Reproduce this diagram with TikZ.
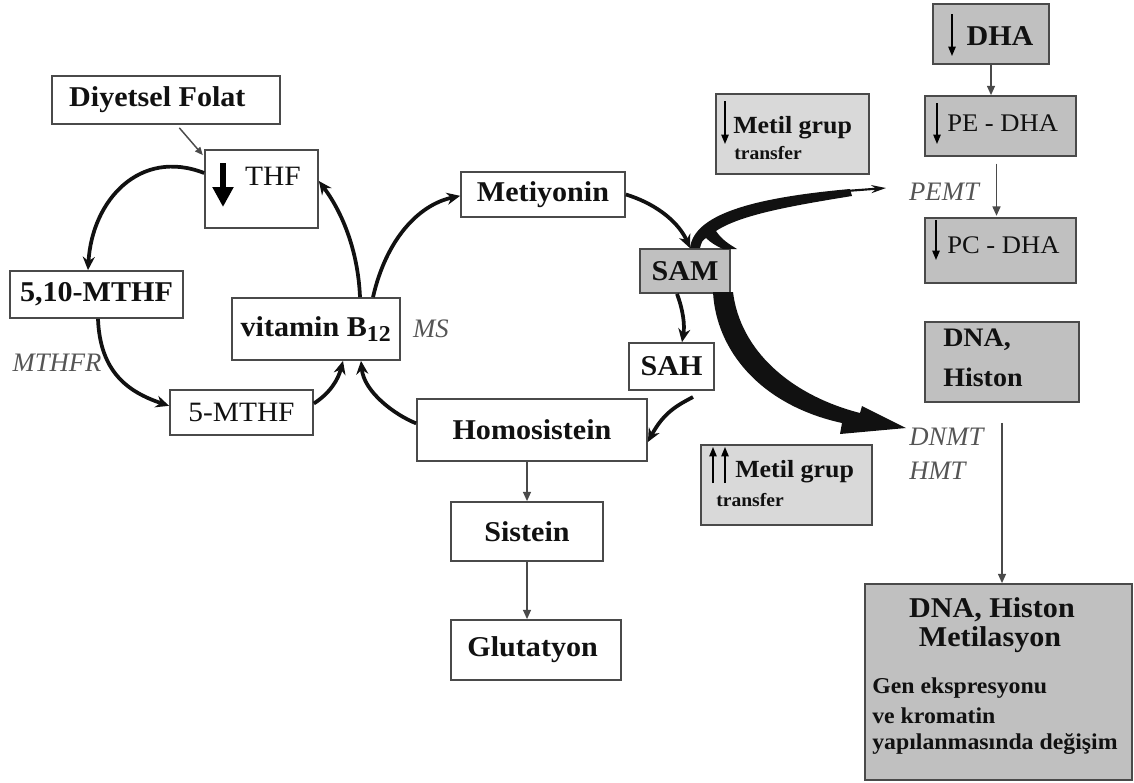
\documentclass[tikz,border=0pt]{standalone}
\usepackage{fontspec}
\setmainfont{Liberation Serif}[FakeStretch=1.05]
\newfontfamily\enzfont{Liberation Serif}
\usetikzlibrary{arrows.meta}
\definecolor{boxline}{HTML}{4A4A4A}
\definecolor{boxgray}{HTML}{C0C0C0}
\definecolor{boxlight}{HTML}{D9D9D9}
\definecolor{enzgray}{HTML}{555555}
\definecolor{ink}{HTML}{111111}
\begin{document}
\begin{tikzpicture}[x=0.75pt,y=-0.75pt,
  box/.style={draw=boxline, line width=1.3pt, inner sep=0pt, fill=white},
  graybox/.style={box, fill=boxgray},
  lightbox/.style={box, fill=boxlight},
  bigbold/.style={font=\fontsize{21.5}{24}\selectfont\bfseries, text=ink},
  plain/.style={font=\fontsize{21}{24}\selectfont, text=ink},
  mgbold/.style={font=\fontsize{18.5}{20}\selectfont\bfseries, text=ink, inner sep=0pt},
  smbold/.style={font=\fontsize{14}{16}\selectfont\bfseries, text=ink, inner sep=0pt},
  dnabold/.style={font=\fontsize{20}{22}\selectfont\bfseries, text=ink, inner sep=0pt},
  genbold/.style={font=\fontsize{17}{19}\selectfont\bfseries, text=ink, inner sep=0pt},
  enzyme/.style={font=\fontsize{20}{22}\enzfont\itshape, text=enzgray, inner sep=0pt},
  cycle arrow/.style={line width=2.8pt, draw=ink, -{Stealth[length=10pt,width=9pt]}},
  flow arrow/.style={line width=1.1pt, draw=boxline, -{Triangle[length=7pt,width=6pt]}},
  down mark/.style={line width=1.1pt, draw=black, -{Triangle[length=7pt,width=5.5pt]}},
]
\useasboundingbox (0,0) rectangle (1134,782);

% ---- folate cycle ----
\node[box, minimum width=171pt, minimum height=36pt, bigbold] (folat) at (166,100) {Diyetsel Folat\kern13pt};
\node[box, minimum width=84.75pt, minimum height=58.5pt] (thf) at (261.5,189) {};
\node[plain, inner sep=0pt] (thftxt) at (273,176) {THF};
\draw[line width=5pt, draw=black, -{Triangle[length=15pt,width=15pt]}] (223,163) -- (223,207);

\node[box, minimum width=129.75pt, minimum height=35.25pt, bigbold] (m510) at (96.5,294.5) {5,10-MTHF};
\node[box, minimum width=126pt, minimum height=46.5pt, bigbold] (b12) at (316,329) {vitamin B\textsubscript{\fontsize{17}{18}\selectfont 12}};
\node[box, minimum width=107.25pt, minimum height=33.75pt, plain] (m5) at (241.5,412.5) {5-MTHF};

% ---- methionine cycle ----
\node[box, minimum width=123pt, minimum height=33.75pt, bigbold] (met) at (543,194.5) {Metiyonin};
\node[graybox, minimum width=67.5pt, minimum height=33pt, bigbold] (sam) at (685,271) {SAM};
\node[box, minimum width=63.75pt, minimum height=35.25pt, bigbold] (sah) at (671.5,366.5) {SAH};
\node[box, minimum width=172.5pt, minimum height=46.5pt, bigbold] (hcy) at (532,430) {Homosistein};
\node[box, minimum width=114pt, minimum height=44.25pt, bigbold] (cys) at (527,531.5) {Sistein};
\node[box, minimum width=127.5pt, minimum height=45pt, bigbold] (gsh) at (536,650) {\kern-5pt Glutatyon};

% ---- methyl transfer notes ----
\node[lightbox, minimum width=114.75pt, minimum height=60pt] (mgta) at (792.5,134) {};
\node[mgbold, anchor=west] (mgtaa) at (733,128) {Metil grup};
\node[smbold, anchor=west] (mgtab) at (734,153) {transfer};
\draw[down mark] (725,101) -- (725,144);

\node[lightbox, minimum width=128.25pt, minimum height=60pt] (mgtb) at (786.5,485) {};
\node[mgbold, anchor=west] (mgtba) at (735,472) {Metil grup};
\node[smbold, anchor=west] (mgtbb) at (716,500) {transfer};
\draw[down mark] (713,483) -- (713,447);
\draw[down mark] (725,483) -- (725,447);

% ---- DHA column ----
\node[graybox, minimum width=87pt, minimum height=45pt] (dha) at (991,34) {};
\node[bigbold, inner sep=0pt] (dhatxt) at (1000,36) {DHA};
\draw[down mark] (952,14) -- (952,56);
\node[graybox, minimum width=113.25pt, minimum height=45pt] (pedha) at (1000.5,126) {};
\node[plain, anchor=west, inner sep=0pt, font=\fontsize{19}{21}\selectfont] (pedhatxt) at (947,123) {PE - DHA};
\draw[down mark] (937,103) -- (937,144);
\node[graybox, minimum width=113.25pt, minimum height=48.75pt] (pcdha) at (1000.5,250.5) {};
\node[plain, anchor=west, inner sep=0pt, font=\fontsize{19}{21}\selectfont] (pcdhatxt) at (947,245) {PC - DHA};
\draw[down mark] (936,220) -- (936,260);

\node[graybox, minimum width=115.5pt, minimum height=60pt] (dnah) at (1002,362) {};
\node[dnabold, anchor=west] (dnaha) at (943,340) {DNA,};
\node[dnabold, anchor=west] (dnahb) at (943,377) {Histon};

\node[graybox, minimum width=200.25pt, minimum height=147pt] (big) at (998.5,682) {};
\node[bigbold, inner sep=0pt] (biga) at (992,610) {DNA, Histon};
\node[bigbold, inner sep=0pt] (bigb) at (990,640) {Metilasyon};
\node[genbold, anchor=west] (bigc) at (872,688) {Gen ekspresyonu};
\node[genbold, anchor=west] (bigd) at (872,716) {ve kromatin};
\node[genbold, anchor=west] (bige) at (872,744) {yapılanmasında değişim};

% ---- enzyme labels ----
\node[enzyme] (ms) at (431,329) {MS};
\node[enzyme] (mthfr) at (57,363) {MTHFR};
\node[enzyme] (pemt) at (944,192) {PEMT};
\node[enzyme, anchor=west] (dnmt) at (909,437) {DNMT};
\node[enzyme, anchor=west] (hmt) at (909,471) {HMT};

% ---- cycle connectors ----
\draw[line width=1.1pt, draw=boxline, -{Triangle[length=6pt,width=5pt]}] ([xshift=10pt]folat.south) ++(0,3) -- ([xshift=-44pt,yshift=-4.5pt]thf.north);
\draw[cycle arrow] ([yshift=12pt]thf.west) .. controls (140,148) and (92,200) .. (m510.north -| 88,0);
\draw[cycle arrow] (m510.south -| 98,0) .. controls (100,372) and (128,392) .. ([yshift=5pt]m5.west);
\draw[cycle arrow] (m5.east) ++(0,-9) .. controls (330,393) and (338,380) .. (b12.south -| 343,0);
\draw[cycle arrow] ([yshift=5pt]hcy.west) .. controls (395,415) and (364,392) .. (b12.south -| 361,0);
\draw[cycle arrow] (b12.north -| 360,0) .. controls (358,250) and (342,212) .. ([yshift=6pt]thf.east);
\draw[cycle arrow] (b12.north -| 373,0) .. controls (386,240) and (418,205) .. ([yshift=-1pt]met.west);
\draw[cycle arrow] (met.east) .. controls (660,205) and (680,225) .. (sam.north -| 690,0);
\draw[cycle arrow] (sam.south -| 677,0) .. controls (683,310) and (685,325) .. (sah.north -| 682,0);
\draw[cycle arrow] (693,397) .. controls (678,405) and (664,412) .. ([yshift=-9pt]hcy.east);

% ---- transsulfuration ----
\draw[flow arrow] (hcy.south -| cys.north) -- (cys.north);
\draw[flow arrow] (cys.south) -- (cys.south |- gsh.north);

% ---- DHA / DNA connectors ----
\draw[flow arrow] (dha.south) -- (dha.south |- pedha.north);
\draw[flow arrow] ([xshift=-3pt,yshift=-5pt]pedha.south) -- ([xshift=-3pt,yshift=1pt]pcdha.north);
\draw[flow arrow] ([yshift=-15pt]dnah.south) -- (big.north -| dnah.south);

% ---- SAM methyl donation: swoosh towards PEMT ----
\fill[ink] (690,248) .. controls (694,215) and (750,198) .. (850,189)
  -- (852,196) .. controls (790,206) and (740,215) .. (716,231)
  .. controls (722,240) and (729,244) .. (737,249)
  -- (723,249) .. controls (716,246) and (710,242) .. (706,238)
  .. controls (702,241) .. (700,248) -- cycle;
\draw[line width=1.6pt, draw=ink, -{Stealth[length=11pt,width=6pt]}] (846,191) -- (886,188);

% ---- SAM methyl donation: broad arrow towards DNMT / HMT ----
\fill[ink] (713,292) .. controls (716,350) and (760,405) .. (842,423)
  -- (840,434) -- (906,428) -- (862,406) -- (860,413)
  .. controls (790,395) and (740,350) .. (733,292) -- cycle;

\end{tikzpicture}
\end{document}
